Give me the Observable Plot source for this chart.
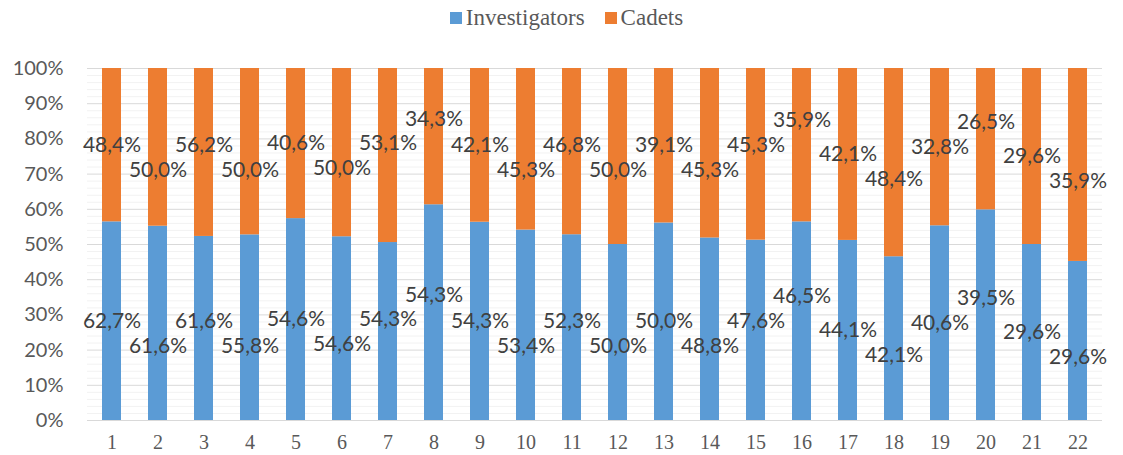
<!DOCTYPE html>
<html><head><meta charset="utf-8">
<script src="https://cdn.jsdelivr.net/npm/d3@7"></script>
<script src="https://cdn.jsdelivr.net/npm/@observablehq/plot@0.6"></script>
<style>
body{margin:0;background:#fff;}
#legend{height:38px;display:flex;justify-content:center;align-items:center;font-family:"Liberation Serif",serif;font-size:23px;color:#595959;padding-left:10px;padding-bottom:2px;box-sizing:border-box;}
.sw{display:inline-block;width:12px;height:12px;margin-right:4px;}
.item{display:flex;align-items:center;margin:0 10px;}
</style></head>
<body>
<div id="legend"></div>
<div id="chart"></div>
<script>
const categories = ["1","2","3","4","5","6","7","8","9","10","11","12","13","14","15","16","17","18","19","20","21","22"];
const investigators = [62.7,61.6,61.6,55.8,54.6,54.6,54.3,54.3,54.3,53.4,52.3,50.0,50.0,48.8,47.6,46.5,44.1,42.1,40.6,39.5,29.6,29.6];
const cadets = [48.4,50.0,56.2,50.0,40.6,50.0,53.1,34.3,42.1,45.3,46.8,50.0,39.1,45.3,45.3,35.9,42.1,48.4,32.8,26.5,29.6,35.9];
const seriesNames = ["Investigators","Cadets"];
const seriesColors = ["#5B9BD5","#ED7D31"];
const majorTicks = [0,0.1,0.2,0.3,0.4,0.5,0.6,0.7,0.8,0.9,1];
const minorTicks = [0.02,0.04,0.06,0.08,0.12,0.14,0.16,0.18,0.22,0.24,0.26,0.28,0.32,0.34,0.36,0.38,0.42,0.44,0.46,0.48,0.52,0.54,0.56,0.58,0.62,0.64,0.66,0.68,0.72,0.74,0.76,0.78,0.82,0.84,0.86,0.88,0.92,0.94,0.96,0.98];

const data = [];
categories.forEach((c,i)=>{
  data.push({cat:c, idx:i, series:seriesNames[0], value:investigators[i]});
  data.push({cat:c, idx:i, series:seriesNames[1], value:cadets[i]});
});
const fmt = v => v.toFixed(1).replace(".",",") + "%";

// label placement: start at segment centre, stagger neighbours vertically so they don't collide
const GAP = 0.07;
function placeLabels(values, centres, series) {
  const out = [];
  let prev = null;
  values.forEach((v, i) => {
    let y = centres[i];
    if (prev !== null && Math.abs(y - prev) < GAP) {
      const up = prev + GAP, down = prev - GAP;
      y = Math.abs(up - centres[i]) < Math.abs(down - centres[i]) ? up : down;
    }
    prev = y;
    out.push({cat: categories[i], y, text: fmt(v), series});
  });
  return out;
}
const shares = investigators.map((v,i) => v / (v + cadets[i]));
const labels = [
  ...placeLabels(investigators, shares.map(s => s / 2), seriesNames[0]),
  ...placeLabels(cadets, shares.map(s => s + (1 - s) / 2), seriesNames[1])
];

const leg = document.getElementById("legend");
seriesNames.forEach((s,i)=>{
  const it = document.createElement("div"); it.className="item";
  const sw = document.createElement("span"); sw.className="sw"; sw.style.background=seriesColors[i];
  it.appendChild(sw); it.appendChild(document.createTextNode(s));
  leg.appendChild(it);
});

const chart = Plot.plot({
  width: 1123,
  height: 417,
  marginTop: 30,
  marginBottom: 35,
  marginLeft: 87,
  marginRight: 21,
  x: {domain: categories, paddingInner: 0.59, paddingOuter: 0.27, label: null},
  y: {domain: [0,1], label: null},
  color: {domain: seriesNames, range: seriesColors},
  style: {fontFamily: "Lato, sans-serif", color: "#595959", overflow: "visible"},
  marks: [
    Plot.ruleY(minorTicks, {stroke: "#f2f2f2", strokeWidth: 1}),
    Plot.ruleY(majorTicks, {stroke: "#d9d9d9", strokeWidth: 1}),
    Plot.barY(data, Plot.stackY({x: "cat", y: "value", z: "series", offset: "normalize", order: null, fill: "series"})),
    Plot.text(labels, {x: "cat", y: "y", text: "text", fill: "#404040", fontSize: 21, fontFamily: "Lato, sans-serif"}),
    Plot.axisY({ticks: majorTicks, tickFormat: d3.format(".0%"), tickSize: 0, tickPadding: 24, fontSize: 20, fill: "#595959", fontFamily: "Lato, sans-serif"}),
    Plot.axisX({tickSize: 0, tickPadding: 14, fontSize: 20, fill: "#595959", fontFamily: "Liberation Serif, serif"})
  ]
});
document.getElementById("chart").appendChild(chart);
</script>
</body></html>
